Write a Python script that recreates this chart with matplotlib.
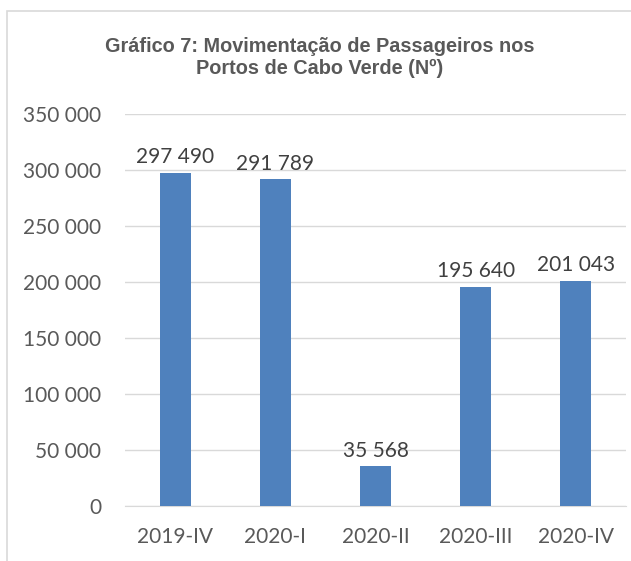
import matplotlib.pyplot as plt
from matplotlib.patches import Rectangle
from matplotlib.ticker import FuncFormatter

# data
categories = ["2019-IV", "2020-I", "2020-II", "2020-III", "2020-IV"]
passengers = [297490, 291789, 35568, 195640, 201043]
yticks = [0, 50000, 100000, 150000, 200000, 250000, 300000, 350000]

def fmt(v, pos=None):
    return f"{int(v):,}".replace(",", " ")

fig = plt.figure(figsize=(6.31, 5.61), dpi=100)
ax = fig.add_axes([0.198, 0.098, 0.794, 0.699])

bar_color = "#4F81BD"
text_color = "#595959"
tick_font = "Lato"
fs = 15

x = range(len(categories))
bars = ax.bar(x, passengers, width=0.31, color=bar_color, zorder=3)

ax.set_ylim(0, 350000)
ax.set_xlim(-0.5, len(categories) - 0.5)
ax.set_yticks(yticks)
ax.yaxis.set_major_formatter(FuncFormatter(fmt))
ax.set_xticks(list(x))
ax.set_xticklabels(categories)
ax.grid(axis="y", color="#D9D9D9", linewidth=1, zorder=0)
for s in ["top", "right", "left"]:
    ax.spines[s].set_visible(False)
ax.spines["bottom"].set_color("#D9D9D9")
ax.tick_params(length=0, labelsize=fs, labelcolor=text_color)
ax.tick_params(axis="x", pad=15)
ax.tick_params(axis="y", pad=17)
for lab in ax.get_xticklabels() + ax.get_yticklabels():
    lab.set_fontfamily(tick_font)

for b, v in zip(bars, passengers):
    ax.annotate(fmt(v), (b.get_x() + b.get_width() / 2, v),
                xytext=(0, 4), textcoords="offset points",
                ha="center", va="bottom", fontsize=fs,
                color="#404040", family=tick_font)

fig.text(0.507, 0.898, "Gráfico 7: Movimentação de Passageiros nos\nPortos de Cabo Verde (Nº)",
         ha="center", va="center", fontsize=14.3, fontweight="bold",
         color=text_color, family="Liberation Sans", linespacing=1.2)

# chart border
fig.patches.append(Rectangle((7 / 631, -0.1), 1.2, 1 - 11 / 561 + 0.1,
                             transform=fig.transFigure, fill=False,
                             edgecolor="#D9D9D9", linewidth=1.2))

fig.savefig("out.png", dpi=100)
